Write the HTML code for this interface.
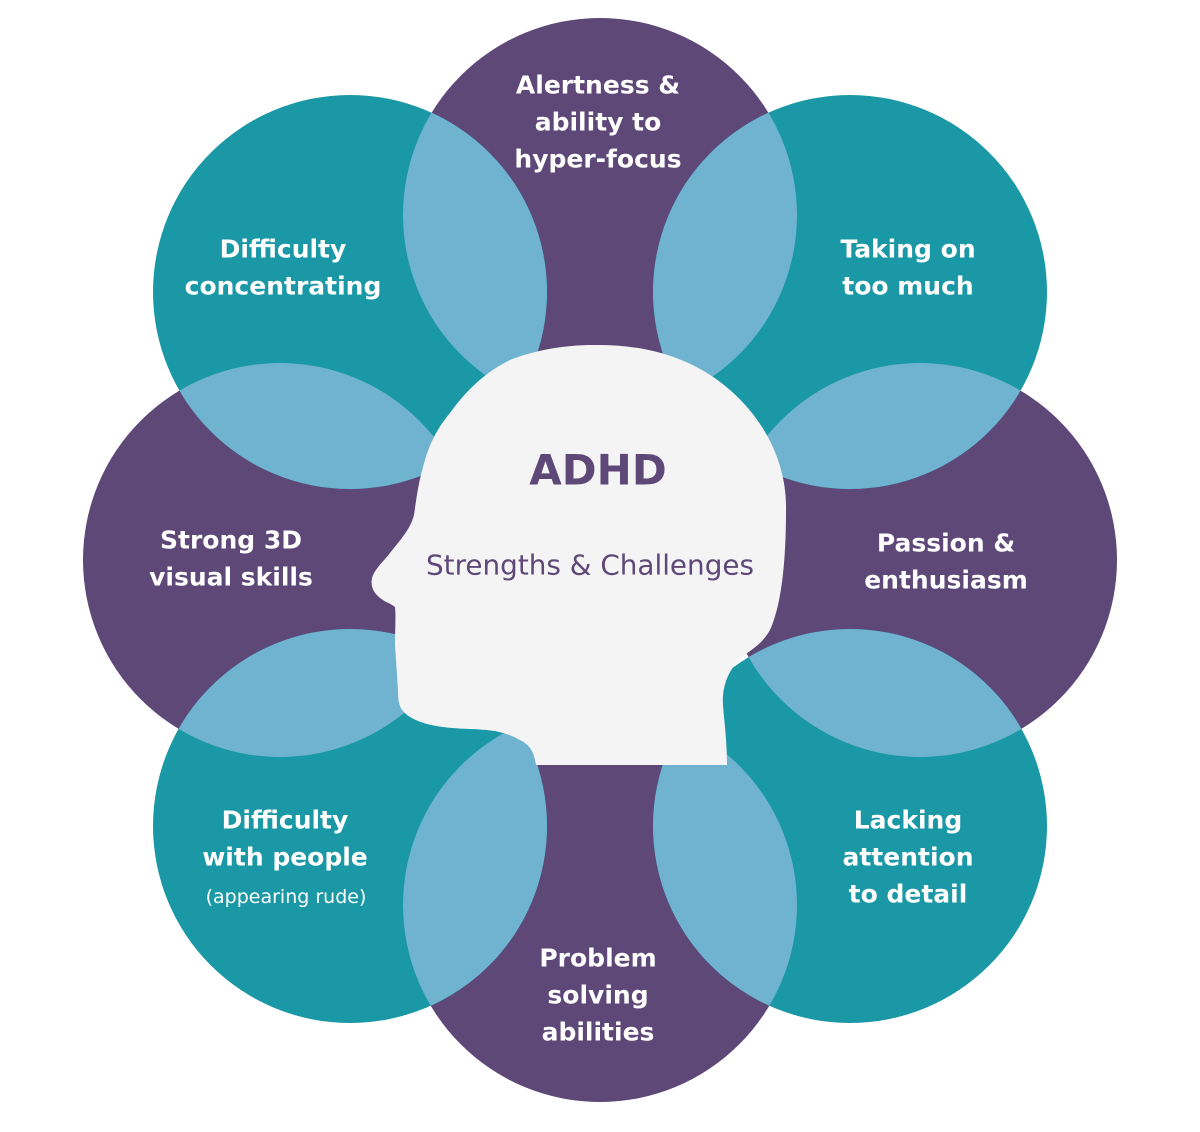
<!DOCTYPE html>
<html><head><meta charset="utf-8"><style>
html,body{margin:0;padding:0;background:#fff;width:1200px;height:1132px;overflow:hidden}
svg{display:block}
.t{font-family:"DejaVu Sans","Liberation Sans",sans-serif;font-weight:bold;font-size:25px;fill:#fff;text-anchor:middle;dominant-baseline:central}
</style></head><body>
<svg width="1200" height="1132" viewBox="0 0 1200 1132">
<defs>
<clipPath id="c0"><circle cx="600" cy="215" r="197"/></clipPath>
<clipPath id="c1"><circle cx="850" cy="292" r="197"/></clipPath>
<clipPath id="c2"><circle cx="920" cy="560" r="197"/></clipPath>
<clipPath id="c3"><circle cx="850" cy="826" r="197"/></clipPath>
<clipPath id="c4"><circle cx="600" cy="905" r="197"/></clipPath>
<clipPath id="c5"><circle cx="350" cy="826" r="197"/></clipPath>
<clipPath id="c6"><circle cx="280" cy="560" r="197"/></clipPath>
<clipPath id="c7"><circle cx="350" cy="292" r="197"/></clipPath>
</defs>
<circle cx="600" cy="215" r="197" fill="#5e4878"/>
<circle cx="920" cy="560" r="197" fill="#5e4878"/>
<circle cx="600" cy="905" r="197" fill="#5e4878"/>
<circle cx="280" cy="560" r="197" fill="#5e4878"/>
<circle cx="850" cy="292" r="197" fill="#1a98a6"/>
<circle cx="850" cy="826" r="197" fill="#1a98a6"/>
<circle cx="350" cy="826" r="197" fill="#1a98a6"/>
<circle cx="350" cy="292" r="197" fill="#1a98a6"/>
<g fill="#6fb3d0">
<circle cx="850" cy="292" r="197" clip-path="url(#c0)"/>
<circle cx="920" cy="560" r="197" clip-path="url(#c1)"/>
<circle cx="850" cy="826" r="197" clip-path="url(#c2)"/>
<circle cx="600" cy="905" r="197" clip-path="url(#c3)"/>
<circle cx="350" cy="826" r="197" clip-path="url(#c4)"/>
<circle cx="280" cy="560" r="197" clip-path="url(#c5)"/>
<circle cx="350" cy="292" r="197" clip-path="url(#c6)"/>
<circle cx="600" cy="215" r="197" clip-path="url(#c7)"/>
</g>
<path fill="#f4f4f5" d="M593 345 C640 344 690 355 730 390 C770 425 787 470 786 510 C786 545 784 600 770 630 C760 648 745 652 737 662 C726 675 722 690 723 705 C724 720 727 740 727 765 L536 765 C534 752 530 745 520 740 C505 732 495 730 470 729 C445 728 425 726 410 717 C400 710 398 705 398 690 C397 675 396 660 395 645 C395 630 396 615 395 607 C390 603 385 602 383 600 C375 595 370 588 372 578 C375 568 385 560 390 553 C400 540 410 530 414 515 C417 495 418 485 423 467 C430 440 440 425 450 413 C470 385 490 370 510 360 C535 350 565 345 593 345 Z"/>
<text x="598" y="470" text-anchor="middle" dominant-baseline="central" font-family="DejaVu Sans,Liberation Sans,sans-serif" font-weight="bold" font-size="42" fill="#5e4878">ADHD</text>
<text x="590" y="565" text-anchor="middle" dominant-baseline="central" font-family="DejaVu Sans,Liberation Sans,sans-serif" font-size="28" fill="#5e4878" textLength="328" lengthAdjust="spacingAndGlyphs">Strengths &amp; Challenges</text>
<text class="t" x="598" y="85">Alertness &amp;</text>
<text class="t" x="598" y="122">ability to</text>
<text class="t" x="598" y="159">hyper-focus</text>
<text class="t" x="283" y="249">Difficulty</text>
<text class="t" x="283" y="286">concentrating</text>
<text class="t" x="908" y="249">Taking on</text>
<text class="t" x="908" y="286">too much</text>
<text class="t" x="231" y="540">Strong 3D</text>
<text class="t" x="231" y="577">visual skills</text>
<text class="t" x="946" y="543">Passion &amp;</text>
<text class="t" x="946" y="580">enthusiasm</text>
<text class="t" x="285" y="820">Difficulty</text>
<text class="t" x="285" y="857">with people</text>
<text class="t" x="286" y="897" style="font-weight:normal;font-size:19px">(appearing rude)</text>
<text class="t" x="908" y="820">Lacking</text>
<text class="t" x="908" y="857">attention</text>
<text class="t" x="908" y="894">to detail</text>
<text class="t" x="598" y="958">Problem</text>
<text class="t" x="598" y="995">solving</text>
<text class="t" x="598" y="1032">abilities</text>
</svg>
</body></html>
